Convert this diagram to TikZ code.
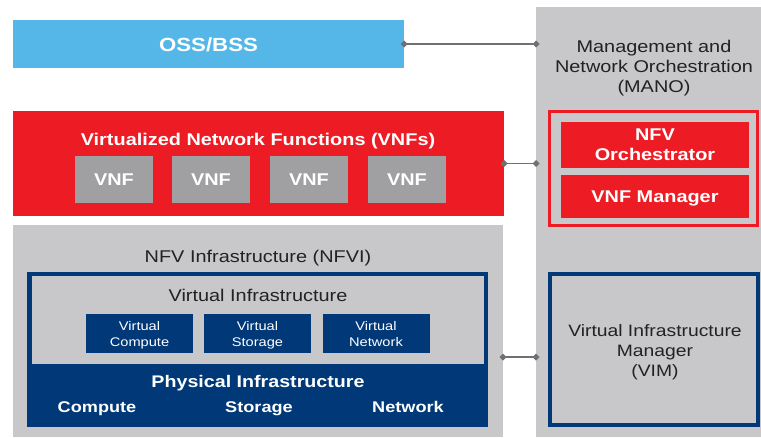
\documentclass[tikz,border=0pt]{standalone}
\usepackage{fontspec}
\setmainfont[FakeStretch=1.17]{Liberation Sans}
\usetikzlibrary{arrows.meta}

\definecolor{ossblue}{RGB}{85,183,232}
\definecolor{vnfred}{RGB}{237,28,36}
\definecolor{panelgray}{RGB}{200,200,202}
\definecolor{vnfgray}{RGB}{160,160,162}
\definecolor{navy}{RGB}{0,56,120}
\definecolor{linkgray}{RGB}{112,112,112}
\definecolor{textdark}{RGB}{34,34,34}

\tikzset{
  block/.style={rectangle, inner sep=0pt, outer sep=0pt, anchor=center},
  filled/.style={block, fill=#1, draw=none},
  framed/.style={block, draw=#1, line width=3.5pt, fill=none},
  % centre a single line on its capital letters
  capline/.style={text height=#1, text depth=0pt},
  whitebold/.style={text=white, font=\bfseries\fontsize{#1}{20}\selectfont, align=center},
  darktext/.style={text=textdark, font=\fontsize{17}{19.7}\selectfont, align=center},
  link/.style={draw=linkgray, line width=1.2pt,
    {Diamond[length=7pt,width=7pt]}-{Diamond[length=7pt,width=7pt]},
    shorten <=-3.5pt, shorten >=-3.5pt},
}

\begin{document}
\begin{tikzpicture}[x=1pt,y=-1pt]
  \useasboundingbox (0,0) rectangle (761,437);

  % OSS/BSS bar
  \node[filled=ossblue, minimum width=391pt, minimum height=48pt] (oss) at (208.5,44) {};
  \node[block, whitebold=19, capline=13.6pt] (osstext) at (208.5,45) {OSS/BSS};

  % MANO column
  \node[filled=panelgray, minimum width=225pt, minimum height=430pt] (mano) at (648.5,222) {};
  \node[darktext, text depth=0pt] (manotitle) at (654,66.5) {Management and\\Network Orchestration\\(MANO)};
  \node[framed=vnfred, minimum width=208pt, minimum height=114pt] (orchframe) at (653.5,168.5) {};
  \node[filled=vnfred, minimum width=188pt, minimum height=46pt,
        whitebold=17, text depth=0pt] (nfvo) at (655,145) {NFV\\Orchestrator};
  \node[filled=vnfred, minimum width=188pt, minimum height=43pt,
        whitebold=17, capline=12.2pt] (vnfm) at (655,196.5) {VNF Manager};
  \node[framed=navy, minimum width=208pt, minimum height=151pt] (vimbox) at (654,349.5) {};
  \node[darktext, font=\fontsize{16.5}{19.7}\selectfont, text depth=0pt] (vimtext) at (655,350.5)
       {Virtual Infrastructure\\Manager\\(VIM)};

  % VNF layer
  \node[filled=vnfred, minimum width=491pt, minimum height=105pt] (vnfs) at (258.5,163.5) {};
  \node[block, whitebold=17, capline=12.2pt] (vnfstitle) at (258,139) {Virtualized Network Functions (VNFs)};
  \foreach \i/\x in {1/114,2/211,3/309,4/407}
    \node[filled=vnfgray, minimum width=78pt, minimum height=47pt,
          whitebold=17, capline=12.2pt] (vnf\i) at (\x,179.5) {VNF};

  % NFV infrastructure
  \node[filled=panelgray, minimum width=490pt, minimum height=212pt] (nfvi) at (258,331) {};
  \node[block, darktext, capline=12.2pt] (nfvititle) at (258,256.3) {NFV Infrastructure (NFVI)};
  \node[filled=navy, minimum width=461pt, minimum height=155pt] (hwframe) at (257.5,349.5) {};
  \node[filled=panelgray, minimum width=452pt, minimum height=88pt] (virtinfra) at (258,320) {};
  \node[block, darktext, capline=12.2pt] (virttitle) at (258,295.5) {Virtual Infrastructure};
  \foreach \n/\x/\t in {vcomp/139.5/Compute,vstor/257.5/Storage,vnet/376/Network}
    \node[filled=navy, minimum width=107pt, minimum height=39pt, text=white,
          font=\fontsize{12.5}{16}\selectfont, align=center, text depth=0pt] (\n) at (\x,333.5) {Virtual\\\t};
  \node[block, whitebold=16.8, capline=12pt] (phystitle) at (258,381.7) {Physical Infrastructure};
  \node[block, whitebold=15.5, capline=11.1pt] (pcomp) at (97,407) {Compute};
  \node[block, whitebold=15.5, capline=11.1pt] (pstor) at (259,407) {Storage};
  \node[block, whitebold=15.5, capline=11.1pt] (pnet) at (408,407) {Network};

  % interface links to MANO
  \coordinate (vimlevel) at (0,357);
  \draw[link] (oss.east) -- (mano.west |- oss.east);
  \draw[link] (vnfs.east) -- (mano.west |- vnfs.east);
  \draw[link] (nfvi.east |- vimlevel) -- (mano.west |- vimlevel);
\end{tikzpicture}
\end{document}
